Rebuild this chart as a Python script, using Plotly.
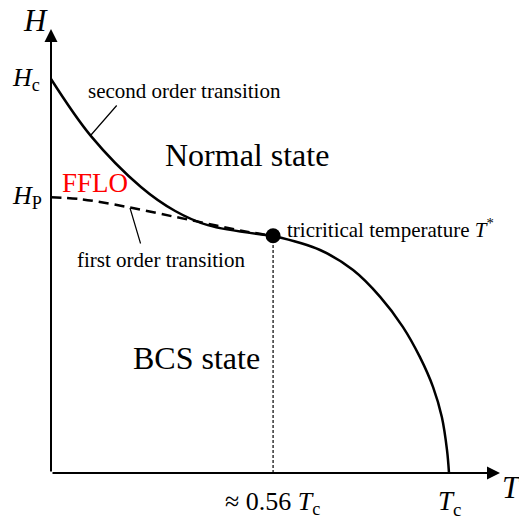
import plotly.graph_objects as go

# Figure size in pixels and the mapping of the H-T axes
FIG_W, FIG_H = 519, 523
ORIGIN_PX = (51, 473)      # pixel position of (T=0, H=0)
UNIT_T_PX = 398            # pixels per Tc
UNIT_H_PX = 394            # pixels per Hc

# Phase boundaries (T in units of Tc, H in units of Hc)
second_T = [0.0, 0.1005, 0.226, 0.312, 0.394, 0.558]
second_H = [1.0, 0.855, 0.726, 0.665, 0.629, 0.602]

first_T = [0.0, 0.075, 0.193, 0.312, 0.412, 0.495, 0.558]
first_H = [0.700, 0.695, 0.675, 0.650, 0.629, 0.612, 0.602]

upper_T = [0.558, 0.676, 0.759, 0.827, 0.884, 0.927, 0.960, 0.982, 0.995, 1.0]
upper_H = [0.602, 0.566, 0.515, 0.447, 0.371, 0.294, 0.218, 0.142, 0.058, 0.0]

tricritical_T = 0.558
tricritical_H = 0.602
H_c = 1.0
H_P = 0.700
T_c = 1.0

SERIF = "Liberation Serif"


def px_x(px):
    return (px - ORIGIN_PX[0]) / UNIT_T_PX


def px_y(py):
    return (ORIGIN_PX[1] - py) / UNIT_H_PX


fig = go.Figure()

# second order transition at low T
fig.add_trace(go.Scatter(x=second_T, y=second_H, mode="lines",
                         line=dict(color="black", width=2.5, shape="spline"),
                         hoverinfo="skip"))
# first order transition (dashed)
fig.add_trace(go.Scatter(x=first_T, y=first_H, mode="lines",
                         line=dict(color="black", width=2.5, dash="10px,6px", shape="spline"),
                         hoverinfo="skip"))
# second order line from T* down to Tc
fig.add_trace(go.Scatter(x=upper_T, y=upper_H, mode="lines",
                         line=dict(color="black", width=2.5, shape="spline"),
                         hoverinfo="skip"))
# dotted drop line from T* to the T axis
fig.add_trace(go.Scatter(x=[tricritical_T, tricritical_T], y=[0, tricritical_H], mode="lines",
                         line=dict(color="black", width=1.2, dash="3px,2px"),
                         hoverinfo="skip"))
# tricritical point
fig.add_trace(go.Scatter(x=[tricritical_T], y=[tricritical_H], mode="markers",
                         marker=dict(color="black", size=15),
                         hoverinfo="skip"))

annotations = []

# axes with arrow heads
annotations.append(dict(x=0, y=px_y(29), ax=0, ay=0, xref="x", yref="y", axref="x", ayref="y",
                        showarrow=True, arrowhead=2, arrowsize=1.3, arrowwidth=2,
                        arrowcolor="black", text=""))
annotations.append(dict(x=px_x(500), y=0, ax=0, ay=0, xref="x", yref="y", axref="x", ayref="y",
                        showarrow=True, arrowhead=2, arrowsize=1.3, arrowwidth=2,
                        arrowcolor="black", text=""))

# leader lines from the labels to the curves
annotations.append(dict(x=px_x(91), y=px_y(135), ax=px_x(118), ay=px_y(104),
                        xref="x", yref="y", axref="x", ayref="y",
                        showarrow=True, arrowhead=0, arrowwidth=1.2, arrowcolor="black", text=""))
annotations.append(dict(x=px_x(130), y=px_y(208), ax=px_x(141), ay=px_y(245),
                        xref="x", yref="y", axref="x", ayref="y",
                        showarrow=True, arrowhead=0, arrowwidth=1.2, arrowcolor="black", text=""))


def label(text, x, y, size, color="black", xanchor="center", yanchor="middle"):
    annotations.append(dict(x=x, y=y, xref="x", yref="y", text=text, showarrow=False,
                            xanchor=xanchor, yanchor=yanchor,
                            font=dict(family=SERIF, size=size, color=color)))


label("<i>H</i>", px_x(35), px_y(20), 31)
label("<i>T</i>", px_x(512), px_y(487), 31)
label("<i>H</i><sub>c</sub>", px_x(26), H_c, 26)
label("<i>H</i><sub>P</sub>", px_x(27), H_P, 26)
label("<i>T</i><sub>c</sub>", T_c, px_y(503), 27)
label("≈ 0.56 <i>T</i><sub>c</sub>", px_x(272), px_y(503), 26)
label("second order transition", px_x(86), px_y(91), 21, xanchor="left")
label("first order transition", px_x(161), px_y(260), 21, xanchor="center")
label("tricritical temperature <i>T</i><sup>*</sup>", px_x(285), px_y(228), 21, xanchor="left")
label("Normal state", px_x(247), px_y(155), 32)
label("BCS state", px_x(196), px_y(358), 32)
label("FFLO", px_x(95), px_y(183), 27, color="red")

fig.update_layout(
    width=FIG_W, height=FIG_H,
    margin=dict(l=0, r=0, t=0, b=0),
    paper_bgcolor="white", plot_bgcolor="white",
    showlegend=False,
    annotations=annotations,
    xaxis=dict(range=[px_x(0), px_x(FIG_W)], visible=False, fixedrange=True),
    yaxis=dict(range=[px_y(FIG_H), px_y(0)], visible=False, fixedrange=True),
)

fig.write_html("out.html", config={"displayModeBar": False})
